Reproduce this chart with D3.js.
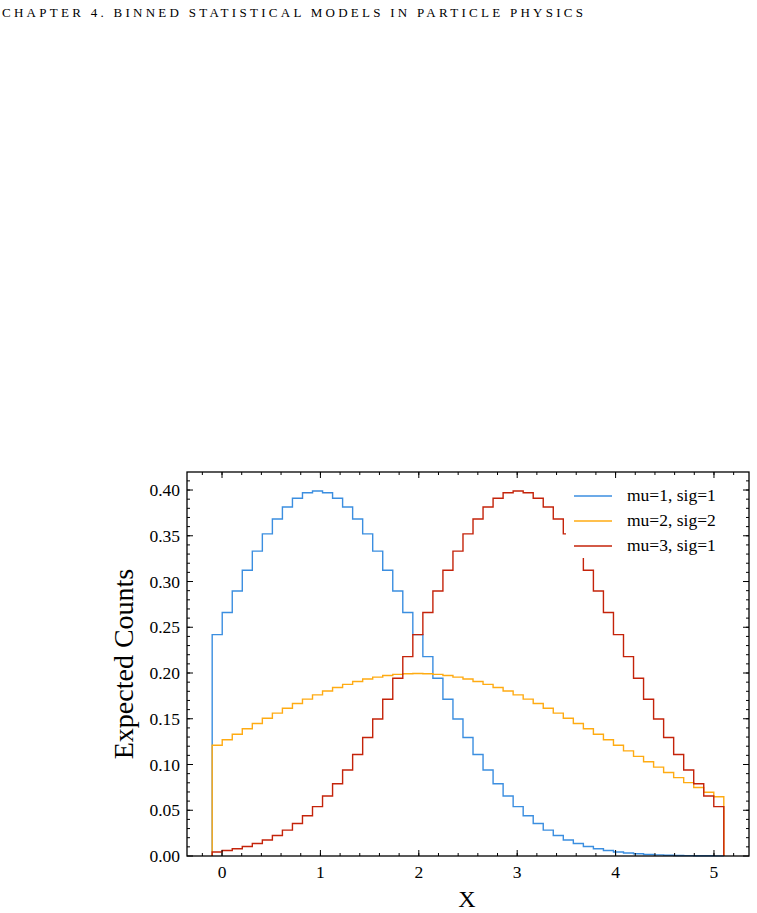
<!DOCTYPE html>
<html><head><meta charset="utf-8">
<script src="https://cdn.jsdelivr.net/npm/d3@7"></script>
<style>body{margin:0;background:#fff}svg{font-family:"Liberation Serif",serif}</style>
</head><body><svg id="c" width="757" height="913"></svg>
<script>
// bin centres 0..5 step 0.1
const xs = d3.range(51).map(i => +(i * 0.1).toFixed(1));
const blue = [.2420,.2661,.2897,.3123,.3332,.3521,.3683,.3814,.3910,.3970,.3989,.3970,.3910,.3814,.3683,.3521,.3332,.3123,.2897,.2661,.2420,.2179,.1942,.1714,.1497,.1295,.1109,.0940,.0790,.0656,.0540,.0440,.0355,.0283,.0224,.0175,.0136,.0104,.0079,.0060,.0044,.0033,.0024,.0017,.0012,.0009,.0006,.0004,.0003,.0002,.0001];
const orange = [.1210,.1271,.1331,.1390,.1449,.1506,.1562,.1615,.1666,.1715,.1761,.1803,.1842,.1876,.1907,.1934,.1955,.1973,.1985,.1992,.1995,.1992,.1985,.1973,.1955,.1934,.1907,.1876,.1842,.1803,.1761,.1715,.1666,.1615,.1562,.1506,.1449,.1390,.1331,.1271,.1210,.1149,.1089,.1030,.0971,.0913,.0857,.0802,.0748,.0697,.0648];
const red = [.0044,.0060,.0079,.0104,.0136,.0175,.0224,.0283,.0355,.0440,.0540,.0656,.0790,.0940,.1109,.1295,.1497,.1714,.1942,.2179,.2420,.2661,.2897,.3123,.3332,.3521,.3683,.3814,.3910,.3970,.3989,.3970,.3910,.3814,.3683,.3521,.3332,.3123,.2897,.2661,.2420,.2179,.1942,.1714,.1497,.1295,.1109,.0940,.0790,.0656,.0540];
const seriesNames = ["mu=1, sig=1", "mu=2, sig=2", "mu=3, sig=1"];
const colors = ["#3b8ee0", "#ffab12", "#c4230a"];
const xTicks = [0, 1, 2, 3, 4, 5];
const yTicks = d3.range(0, 0.401, 0.05);

const svg = d3.select("#c");
const L = 187, R = 749, T = 472, B = 856;
const x = d3.scaleLinear().domain([-0.356, 5.356]).range([L, R]);
const y = d3.scaleLinear().domain([0, 0.4197]).range([B, T]);

svg.append("text").attr("x", 2).attr("y", 17).attr("font-size", 13)
  .attr("textLength", 581).attr("lengthAdjust", "spacing")
  .text("CHAPTER 4.  BINNED STATISTICAL MODELS IN PARTICLE PHYSICS");

const edges = d3.range(52).map(i => -0.1 + i * 5.2 / 51);
function stepPath(vals) {
  let p = d3.path();
  p.moveTo(x(edges[0]), y(0));
  vals.forEach((v, i) => { p.lineTo(x(edges[i]), y(v)); p.lineTo(x(edges[i + 1]), y(v)); });
  p.lineTo(x(edges[51]), y(0));
  return p.toString();
}
const g = svg.append("g");
[blue, orange, red].forEach((s, k) => {
  g.append("path").attr("d", stepPath(s)).attr("fill", "none")
    .attr("stroke", colors[k]).attr("stroke-width", 1.4);
});

// legend with white background
const lg = svg.append("g");
lg.append("rect").attr("x", 566).attr("y", 482).attr("width", 180).attr("height", 76).attr("fill", "#fff");
seriesNames.forEach((n, k) => {
  const yy = 496 + k * 25;
  lg.append("line").attr("x1", 574).attr("x2", 612).attr("y1", yy).attr("y2", yy)
    .attr("stroke", colors[k]).attr("stroke-width", 1.4);
  lg.append("text").attr("x", 627).attr("y", yy + 5).attr("font-size", 17.5).text(n);
});

// frame and inward ticks
svg.append("rect").attr("x", L).attr("y", T).attr("width", R - L).attr("height", B - T)
  .attr("fill", "none").attr("stroke", "#000").attr("stroke-width", 1.3);
const ax = svg.append("g").attr("stroke", "#000").attr("stroke-width", 1);
const xMinor = d3.range(-0.2, 5.3, 0.2).filter(v => x(v) > L && x(v) < R);
xMinor.forEach(v => {
  ax.append("line").attr("x1", x(v)).attr("x2", x(v)).attr("y1", B).attr("y2", B - 3);
  ax.append("line").attr("x1", x(v)).attr("x2", x(v)).attr("y1", T).attr("y2", T + 3);
});
xTicks.forEach(v => {
  ax.append("line").attr("x1", x(v)).attr("x2", x(v)).attr("y1", B).attr("y2", B - 6);
  ax.append("line").attr("x1", x(v)).attr("x2", x(v)).attr("y1", T).attr("y2", T + 6);
  svg.append("text").attr("x", x(v)).attr("y", B + 22).attr("text-anchor", "middle")
    .attr("font-size", 17.5).text(v);
});
d3.range(0.01, 0.42, 0.01).forEach(v => {
  ax.append("line").attr("x1", L).attr("x2", L + 3).attr("y1", y(v)).attr("y2", y(v));
  ax.append("line").attr("x1", R).attr("x2", R - 3).attr("y1", y(v)).attr("y2", y(v));
});
yTicks.forEach(v => {
  ax.append("line").attr("x1", L).attr("x2", L + 6).attr("y1", y(v)).attr("y2", y(v));
  ax.append("line").attr("x1", R).attr("x2", R - 6).attr("y1", y(v)).attr("y2", y(v));
  svg.append("text").attr("x", L - 7).attr("y", y(v) + 6).attr("text-anchor", "end")
    .attr("font-size", 17.5).text(d3.format(".2f")(v));
});

svg.append("text").attr("transform", "translate(133,664) rotate(-90)").attr("text-anchor", "middle")
  .attr("font-size", 28).text("Expected Counts");
svg.append("text").attr("x", 467).attr("y", 907).attr("text-anchor", "middle")
  .attr("font-size", 24).text("X");
</script></body></html>
